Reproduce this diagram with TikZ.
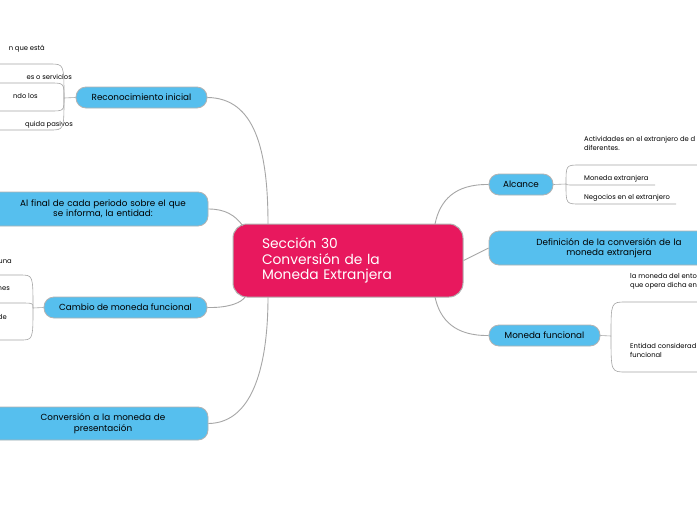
\documentclass[tikz,border=0pt]{standalone}
\usepackage{fontspec}
\setmainfont{Poppins}
\usetikzlibrary{positioning}
\definecolor{rama}{HTML}{56BFEE}
\definecolor{centro}{HTML}{E8185E}
\tikzset{
  tema/.style={draw=gray!60, fill=rama, rounded corners=10pt, line width=0.8pt, align=center, font=\fontsize{8.8}{10.5}\selectfont, inner sep=0pt},
  hoja/.style={font=\fontsize{6.8}{9}\selectfont, inner sep=0pt, align=left},
  enlace/.style={draw=gray!70, line width=0.9pt},
  linea/.style={draw=gray!70, line width=0.6pt}
}
\begin{document}
\begin{tikzpicture}[x=1pt,y=-1pt]
\useasboundingbox[fill=white] (0,0) rectangle (697,520);

\node[draw=gray!60, fill=centro, rounded corners=14pt, line width=1pt, minimum width=230pt, minimum height=73pt, text=white, align=left, font=\fontsize{13.8}{15.5}\selectfont, text width=172pt, inner sep=0pt] (sec) at (348,260.5) {Sección 30\\Conversión de la\\Moneda Extranjera};

% ramas izquierda
\node[tema, minimum width=131pt, minimum height=21pt] (rec) at (141.5,97.5) {Reconocimiento inicial};
\node[tema, minimum width=240pt, minimum height=34pt, text width=200pt] (fin) at (88,209) {\hspace*{30pt}Al final de cada periodo sobre el que\\\hspace*{30pt}se informa, la entidad:};
\node[tema, minimum width=163pt, minimum height=21pt] (cam) at (125.5,307.5) {Cambio de moneda funcional};
\node[tema, minimum width=240pt, minimum height=33pt, text width=200pt] (con) at (88,423.5) {\hspace*{30pt}Conversión a la moneda de\\\hspace*{30pt}presentación};

% ramas derecha
\node[tema, minimum width=64pt, minimum height=21pt] (alc) at (521,184.5) {Alcance};
\node[tema, minimum width=240pt, minimum height=34pt, text width=200pt] (def) at (609,248) {Definición de la conversión de la\hspace*{26pt}\\moneda extranjera\hspace*{26pt}};
\node[tema, minimum width=111pt, minimum height=21pt] (mon) at (544.5,335.5) {Moneda funcional};

\coordinate (s1) at (268,224);
\coordinate (s2) at (243,226);
\coordinate (s3) at (245,297);
\coordinate (s4) at (268,297);
\coordinate (s5) at (435,224);
\coordinate (s6) at (435,297);

\draw[enlace] (rec.east) .. controls (255,98) and (268,150) .. (s1);
\draw[enlace] (fin.east) .. controls (225,209) and (235,215) .. (s2);
\draw[enlace] (cam.east) .. controls (230,308) and (242,302) .. (s3);
\draw[enlace] (con.east) .. controls (255,423) and (268,360) .. (s4);
\draw[enlace] (alc.west) .. controls (455,184) and (440,200) .. (s5);
\draw[enlace] (def.west) -- (sec.east);
\draw[enlace] (mon.west) .. controls (455,336) and (440,320) .. (s6);

% hojas de Reconocimiento inicial
\node[hoja, anchor=base east] (r1) at (45,50) {n que está};
\node[hoja, anchor=base east] (r2) at (72,79) {es o servicios};
\node[hoja, anchor=base east] (r3) at (38,98) {ndo los};
\node[hoja, anchor=base east] (r4) at (73,126) {quida pasivos};
\coordinate (rj) at (64,98);
\draw[linea] (rec.west) -- (rj);
\foreach \y in {64,83,111,130}
  \draw[linea] (rj) .. controls (64,\y) .. (50,\y) -- (0,\y);

% hojas de Cambio de moneda funcional
\node[hoja, anchor=base east] (c1) at (12,263) {una};
\node[hoja, anchor=base east] (c2) at (10,290) {nes};
\node[hoja, anchor=base east] (c3) at (7,319) {de};
\coordinate (cj) at (33,308);
\draw[linea] (cam.west) -- (cj);
\foreach \y in {275,303,340}
  \draw[linea] (cj) .. controls (33,\y) .. (20,\y) -- (0,\y);

% hojas de Alcance
\node[hoja, anchor=base west] (a1) at (584,150) {Actividades en el extranjero de d\\diferentes.};
\node[hoja, anchor=base west] (a2) at (584,180) {Moneda extranjera};
\node[hoja, anchor=base west] (a3) at (584,199) {Negocios en el extranjero};
\coordinate (aj) at (566,184);
\draw[linea] (alc.east) -- (aj);
\draw[linea] (aj) .. controls (566,165) .. (580,165) -- (697,165);
\draw[linea] (aj) .. controls (566,185) .. (580,185) -- (655,185);
\draw[linea] (aj) .. controls (566,204) .. (580,204) -- (676,204);

% hojas de Moneda funcional
\node[hoja, anchor=base west] (m1) at (630,287) {la moneda del ento\\que opera dicha ent};
\node[hoja, anchor=base west] (m2) at (630,357) {Entidad considerad\\funcional};
\coordinate (mj) at (611,336);
\draw[linea] (mon.east) -- (mj);
\draw[linea] (mj) .. controls (611,302) .. (626,302) -- (697,302);
\draw[linea] (mj) .. controls (611,372) .. (626,372) -- (697,372);
\end{tikzpicture}
\end{document}
